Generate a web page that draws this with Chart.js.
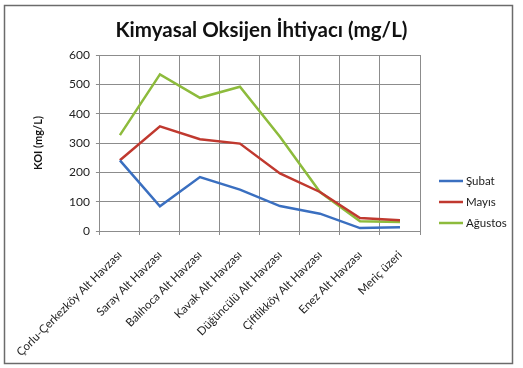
<!DOCTYPE html>
<html>
<head>
<meta charset="utf-8">
<script src="https://cdn.jsdelivr.net/npm/chart.js@4"></script>
<style>
  html, body { margin: 0; padding: 0; background: #fff; }
  #wrap { width: 523px; height: 368px; }
</style>
</head>
<body>
<div id="wrap"><canvas id="grafik" width="523" height="368"></canvas></div>
<script>
// kategoriler (alt havzalar)
const havzalar = [
  "Çorlu-Çerkezköy Alt Havzası", "Saray Alt Havzası", "Balıhoca Alt Havzası",
  "Kavak Alt Havzası", "Düğüncülü Alt Havzası", "Çiftlikköy Alt Havzası",
  "Enez Alt Havzası", "Meriç üzeri"
];
const subatY = [241, 84, 184, 141, 85, 59, 10, 13];
const mayisY = [241, 357, 313, 298, 196, 133, 44, 37];
const agustosY = [327, 534, 454, 492, 321, 133, 33, 31];
const yTicks = [0, 100, 200, 300, 400, 500, 600];

const yazi = "Lato, 'Open Sans', sans-serif";

// çerçeve + beyaz zemin
const cerceve = {
  id: "cerceve",
  beforeDraw(chart) {
    const ctx = chart.ctx;
    ctx.save();
    ctx.fillStyle = "#fff";
    ctx.fillRect(0, 0, chart.width, chart.height);
    ctx.restore();
  },
  afterDraw(chart) {
    const ctx = chart.ctx;
    ctx.save();
    ctx.strokeStyle = "#6b6b6b";
    ctx.lineWidth = 1.5;
    ctx.strokeRect(4.5, 5.5, 508, 358);
    ctx.restore();
  }
};

// sağdaki lejant
const lejant = {
  id: "lejant",
  afterDraw(chart) {
    const ctx = chart.ctx;
    ctx.save();
    ctx.font = "11.5px " + yazi;
    ctx.textBaseline = "middle";
    chart.data.datasets.forEach(function (ds, i) {
      const y = 181 + i * 21;
      ctx.strokeStyle = ds.borderColor;
      ctx.lineWidth = 2.5;
      ctx.beginPath();
      ctx.moveTo(439, y);
      ctx.lineTo(463, y);
      ctx.stroke();
      ctx.fillStyle = "#1a1a1a";
      ctx.fillText(ds.label, 466, y);
    });
    ctx.restore();
  }
};

new Chart("grafik", {
  type: "line",
  data: {
    labels: havzalar,
    datasets: [
      { label: "Şubat", data: subatY, borderColor: "#3a6fc0", borderWidth: 2.5, pointRadius: 0, tension: 0 },
      { label: "Mayıs", data: mayisY, borderColor: "#c0392f", borderWidth: 2.5, pointRadius: 0, tension: 0 },
      { label: "Ağustos", data: agustosY, borderColor: "#8dbb3c", borderWidth: 2.5, pointRadius: 0, tension: 0 }
    ]
  },
  options: {
    responsive: false,
    animation: false,
    layout: { padding: 0 },
    plugins: {
      legend: { display: false },
      tooltip: { enabled: false },
      title: {
        display: true,
        text: "Kimyasal Oksijen İhtiyacı (mg/L)",
        color: "#111",
        font: { family: yazi, size: 20.5, weight: "bold" },
        padding: { top: 18, bottom: 12.4 }
      }
    },
    scales: {
      x: {
        offset: true,
        grid: { offset: true, color: "#8c8c8c", tickLength: 4, drawTicks: true },
        border: { color: "#8c8c8c" },
        ticks: {
          minRotation: 45, maxRotation: 45, autoSkip: false, padding: 13,
          color: "#222", font: { family: yazi, size: 11.5 }
        },
        afterFit(scale) { scale.height = 137; }
      },
      y: {
        min: 0, max: 600,
        afterBuildTicks(scale) { scale.ticks = yTicks.map(v => ({ value: v })); },
        grid: { color: "#8c8c8c", tickLength: 4 },
        border: { color: "#8c8c8c" },
        ticks: { padding: 6, color: "#222", font: { family: yazi, size: 12 } },
        title: {
          display: true, text: "KOI (mg/L)", color: "#111",
          font: { family: yazi, size: 11, weight: "bold" },
          padding: { top: 21, bottom: 0 }
        },
        afterFit(scale) { scale.width = 89; }
      },
      // sağda lejant için boş alan
      bos: {
        position: "right",
        display: true,
        min: 0, max: 1,
        grid: { display: false },
        border: { display: false },
        ticks: { display: false },
        afterFit(scale) { scale.width = 103; }
      }
    }
  },
  plugins: [cerceve, lejant]
});
</script>
</body>
</html>
